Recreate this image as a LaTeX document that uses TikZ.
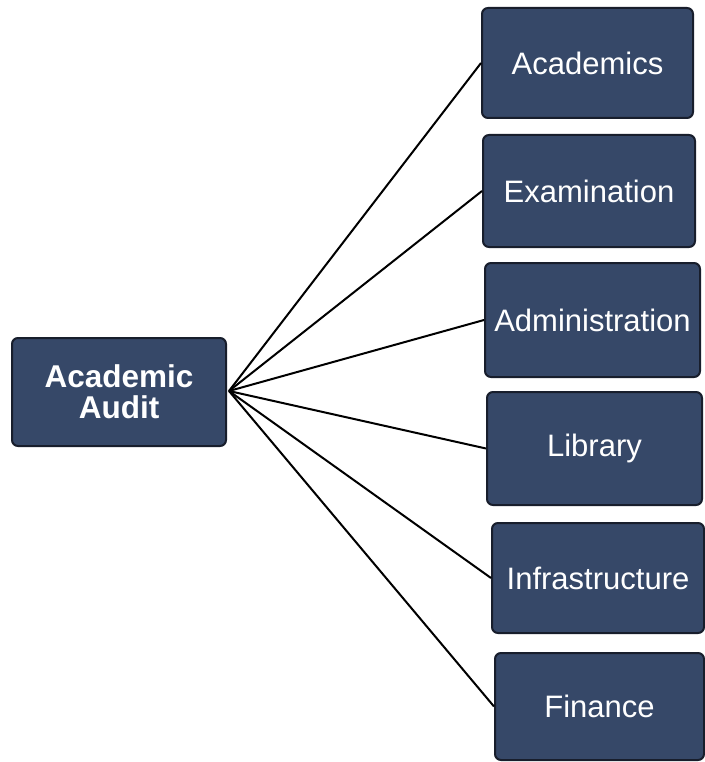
\documentclass[tikz,border=0pt]{standalone}
\usepackage{fontspec}
\setmainfont{Liberation Sans}
\definecolor{boxfill}{RGB}{54,72,104}
\definecolor{boxedge}{RGB}{24,30,44}
\tikzset{
  box/.style={draw=boxedge, line width=2pt, fill=boxfill, rounded corners=6pt,
    text=white, font=\fontsize{31}{33}\selectfont, align=center, inner sep=0pt},
  link/.style={draw=black, line width=2pt}
}
\begin{document}
\begin{tikzpicture}[x=1pt,y=-1pt]
\useasboundingbox[fill=white] (0,0) rectangle (704,762);
\node[box, minimum width=214pt, minimum height=108pt, font=\bfseries\fontsize{31.5}{31}\selectfont] (audit) at (119,392) {Academic\\Audit};
\node[box, minimum width=211pt, minimum height=110pt] (acad) at (587.5,63) {Academics};
\node[box, minimum width=212pt, minimum height=112pt] (exam) at (589,191) {Examination};
\node[box, minimum width=215pt, minimum height=114pt] (admin) at (592.5,320) {Administration};
\node[box, minimum width=215pt, minimum height=113pt] (lib) at (594.5,448.5) {Library};
\node[box, minimum width=212pt, minimum height=110pt] (infra) at (598,578) {Infrastructure};
\node[box, minimum width=209pt, minimum height=107pt] (fin) at (599.5,706.5) {Finance};
\coordinate (hub) at (229,391);
\foreach \t in {acad,exam,admin,lib,infra,fin}
  \draw[link] (hub) -- (\t.west);
\end{tikzpicture}
\end{document}
